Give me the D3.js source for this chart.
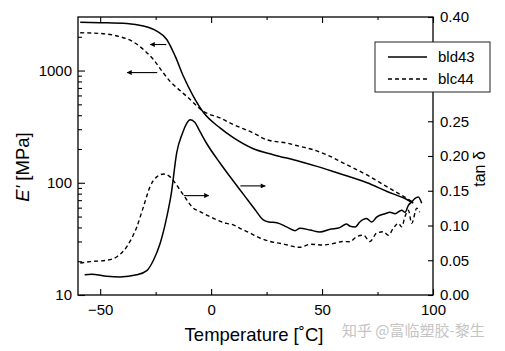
<!DOCTYPE html>
<html><head><meta charset="utf-8">
<script src="https://cdn.jsdelivr.net/npm/d3@7/dist/d3.min.js"></script>
<style>
html,body{margin:0;padding:0;background:#fff;}
svg{display:block;font-family:"Liberation Sans",Arial,Helvetica,sans-serif;}
</style></head>
<body>
<script>
// ---- data ----
const xTicks = [-50, 0, 50, 100];
const xMinorTicks = [-25, 25, 75];
const eTicks = [10, 100, 1000];
const eMinorTicks = [20,30,40,50,60,70,80,90,200,300,400,500,600,700,800,900,2000];
const tanTicks = [0, 0.05, 0.10, 0.15, 0.20, 0.25, 0.30, 0.35, 0.40];
const tanHiddenLabels = [0.30, 0.35]; // covered by the legend box in the original
const seriesNames = ["bld43", "blc44"];

// storage modulus E' [MPa] vs temperature
const bld43E = [[-59,2690],[-50,2670],[-38,2630],[-30.5,2490],[-24.5,2245],[-20,1890],[-16.2,1343],[-12.5,889],[-8,590],[-3.5,425],[4,308],[10,252],[19,201],[28,178],[40,155],[47.7,140],[55,126],[70.3,100],[79.3,83.6],[88.2,71],[91.1,66]];
const blc44E = [[-59,2172],[-48.6,2128],[-41,2000],[-35.7,1828],[-30.5,1540],[-26,1253],[-21.5,950],[-18.5,800],[-15,690],[-11,589],[-3.5,433],[4,378],[10,330],[19,278],[25,242],[34,226],[40,211],[46,197],[52,178],[59.6,150],[70,118],[79,92.7],[88,73],[91,67]];

// tan delta vs temperature
const bld43Tan = [[-57,0.029],[-54,0.030],[-47,0.027],[-41,0.026],[-33.5,0.029],[-29,0.035],[-26,0.050],[-23,0.074],[-20,0.112],[-18,0.145],[-15.5,0.205],[-13,0.232],[-11,0.247],[-9.5,0.252],[-7.5,0.249],[-5,0.235],[-2,0.218],[4,0.190],[10,0.164],[15,0.143],[20,0.122],[23.5,0.108],[26,0.105],[29.6,0.104],[34,0.098],[37.8,0.0925],[40,0.096],[44.6,0.0935],[49,0.0906],[53.6,0.0945],[58,0.097],[61,0.102],[62.6,0.099],[65,0.098],[67,0.105],[70,0.110],[72.4,0.105],[74.6,0.112],[78.4,0.117],[80.6,0.119],[82.9,0.117],[85.9,0.122],[87.4,0.119],[88.9,0.129],[90.4,0.134],[91.9,0.139],[93.4,0.141],[94.9,0.132]];
const blc44Tan = [[-59,0.046],[-54.5,0.048],[-47,0.050],[-42.5,0.055],[-38,0.0695],[-33.5,0.098],[-30.5,0.127],[-27.5,0.156],[-24.5,0.170],[-21.5,0.174],[-18.5,0.170],[-15.5,0.158],[-12.5,0.144],[-8,0.125],[-5,0.120],[-2,0.115],[7,0.103],[10,0.101],[13,0.096],[17.6,0.089],[22,0.082],[26.6,0.077],[32.6,0.0734],[40,0.0686],[44.6,0.073],[50.6,0.072],[55,0.074],[59.6,0.077],[62.6,0.0767],[65.6,0.084],[68.6,0.086],[71.6,0.077],[74.6,0.089],[77.6,0.091],[79.9,0.086],[82.1,0.096],[84.4,0.103],[85.9,0.098],[87.4,0.113],[88.9,0.122],[90.4,0.103],[92.7,0.125],[94,0.119]];

// arrows (data coordinates): [tFrom, tTo, value]
const arrowsE = [[-20.2,-27.4,1706],[-24.3,-37.8,959]];
const arrowsTan = [[-12.3,-1.1,0.143],[13.2,24.4,0.157]];

// ---- chart ----
const W = 505, H = 351;
const L = 78, R = 433, T = 17, B = 295;
const svg = d3.select("body").append("svg").attr("width", W).attr("height", H);

const x = d3.scaleLinear().domain([-60, 100]).range([L, R]);
const yE = d3.scaleLog().domain([10, 3000]).range([B, T]);
const yT = d3.scaleLinear().domain([0, 0.4]).range([B, T]);

const fs = "15px";
function style(g){ g.select(".domain").remove(); g.selectAll("line").attr("stroke","#000").attr("stroke-width",1.1); g.selectAll("text").attr("font-size",fs).attr("fill","#000").attr("font-family","Liberation Sans, Arial, sans-serif"); }

svg.append("g").attr("transform",`translate(0,${B})`).call(d3.axisBottom(x).tickValues(xTicks).tickSize(-6).tickPadding(9)).call(style);
svg.append("g").attr("transform",`translate(0,${B})`).call(d3.axisBottom(x).tickValues(xMinorTicks).tickSize(-3).tickFormat("")).call(style);
svg.append("g").attr("transform",`translate(0,${T})`).call(d3.axisTop(x).tickValues(xTicks).tickSize(-6).tickFormat("")).call(style);
svg.append("g").attr("transform",`translate(0,${T})`).call(d3.axisTop(x).tickValues(xMinorTicks).tickSize(-3).tickFormat("")).call(style);
svg.append("g").attr("transform",`translate(${L},0)`).call(d3.axisLeft(yE).tickValues(eTicks).tickFormat(d3.format("d")).tickSize(-7).tickPadding(6)).call(style);
svg.append("g").attr("transform",`translate(${L},0)`).call(d3.axisLeft(yE).tickValues(eMinorTicks).tickFormat("").tickSize(-4)).call(style);
const f2 = d3.format(".2f");
svg.append("g").attr("transform",`translate(${R},0)`)
  .call(d3.axisRight(yT).tickValues(tanTicks).tickFormat(d => tanHiddenLabels.some(h=>Math.abs(h-d)<1e-9) ? "" : f2(d)).tickSize(-5).tickPadding(7)).call(style);

svg.append("rect").attr("x",L).attr("y",T).attr("width",R-L).attr("height",B-T)
  .attr("fill","none").attr("stroke","#000").attr("stroke-width",1.3);

// lines
const lineE = d3.line().x(d=>x(d[0])).y(d=>yE(d[1])).curve(d3.curveMonotoneX);
const lineT = d3.line().x(d=>x(d[0])).y(d=>yT(d[1])).curve(d3.curveMonotoneX);
const dash = "4,3";
svg.append("path").attr("d",lineE(bld43E)).attr("fill","none").attr("stroke","#000").attr("stroke-width",1.5);
svg.append("path").attr("d",lineE(blc44E)).attr("fill","none").attr("stroke","#000").attr("stroke-width",1.4).attr("stroke-dasharray",dash);
svg.append("path").attr("d",lineT(bld43Tan)).attr("fill","none").attr("stroke","#000").attr("stroke-width",1.5);
svg.append("path").attr("d",lineT(blc44Tan)).attr("fill","none").attr("stroke","#000").attr("stroke-width",1.4).attr("stroke-dasharray",dash);

// arrows
svg.append("defs").append("marker").attr("id","ah").attr("viewBox","0 0 10 10").attr("refX",9).attr("refY",5)
  .attr("markerWidth",7).attr("markerHeight",5).attr("markerUnits","userSpaceOnUse").attr("orient","auto")
  .append("path").attr("d","M0,0L10,5L0,10Z").attr("fill","#000");
arrowsE.forEach(a=>{
  svg.append("line").attr("x1",x(a[0])).attr("x2",x(a[1])).attr("y1",yE(a[2])).attr("y2",yE(a[2]))
    .attr("stroke","#000").attr("stroke-width",1.1).attr("marker-end","url(#ah)");
});
arrowsTan.forEach(a=>{
  svg.append("line").attr("x1",x(a[0])).attr("x2",x(a[1])).attr("y1",yT(a[2])).attr("y2",yT(a[2]))
    .attr("stroke","#000").attr("stroke-width",1.1).attr("marker-end","url(#ah)");
});

// legend
const lg = svg.append("g");
lg.append("rect").attr("x",375).attr("y",42).attr("width",115).attr("height",50)
  .attr("fill","#fff").attr("stroke","#222").attr("stroke-width",1);
seriesNames.forEach((n,i)=>{
  const yy = 57 + i*22;
  lg.append("line").attr("x1",388).attr("x2",427).attr("y1",yy).attr("y2",yy)
    .attr("stroke","#000").attr("stroke-width",1.3).attr("stroke-dasharray", i===1?dash:null);
  lg.append("text").attr("x",438).attr("y",yy+5).attr("font-size",fs).text(n);
});

// axis titles
svg.append("text").attr("x",254).attr("y",341).attr("text-anchor","middle").attr("font-size","18.5px").text("Temperature [˚C]");
const yl = svg.append("text").attr("transform","translate(29,167) rotate(-90)").attr("text-anchor","middle").attr("font-size","18.5px");
yl.append("tspan").attr("font-style","italic").text("E'");
yl.append("tspan").text("  [MPa]");
svg.append("text").attr("transform","translate(485,169) rotate(-90)").attr("text-anchor","middle").attr("font-size","16px").text("tan δ");

// watermark
svg.append("text").attr("x",342).attr("y",336).attr("font-size","15px").attr("fill","#c4c4c4")
  .attr("font-family","Noto Sans CJK SC, sans-serif").text("知乎 @富临塑胶-黎生");
</script>
</body></html>
